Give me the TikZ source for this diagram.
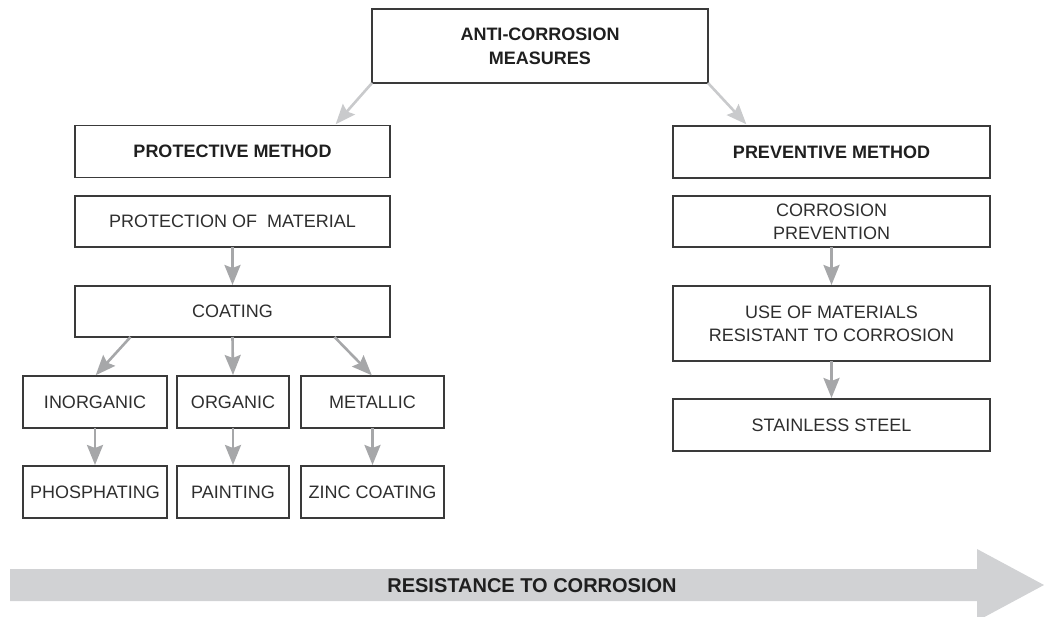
\documentclass[tikz,border=0pt]{standalone}
\usepackage{fontspec}
\setmainfont{Liberation Sans}
\usetikzlibrary{arrows.meta}
\definecolor{boxline}{HTML}{3A3A3A}
\definecolor{txt}{HTML}{2E2E2E}
\definecolor{arrowgray}{HTML}{A6A7A9}
\definecolor{lightarrow}{HTML}{C9CACC}
\definecolor{bandgray}{HTML}{D1D2D4}
\tikzset{
  box/.style={draw=boxline, line width=1.1pt, rectangle, inner sep=0pt, outer sep=0pt,
    align=center, text=txt, font=\fontsize{18}{23}\selectfont},
  boldbox/.style={box, font=\fontsize{18}{24}\selectfont\bfseries, text=black!88},
  conn/.style={draw=arrowgray, line width=2.6pt,
    -{Stealth[length=20pt,width=16pt,inset=3pt]}, shorten >=1pt},
  lightconn/.style={conn, draw=lightarrow},
}
\begin{document}
\begin{tikzpicture}[x=1pt,y=-1pt]
\useasboundingbox (0,0) rectangle (1044,617);
% nodes
\node[boldbox, minimum width=336pt, minimum height=74pt] (top) at (540,46) {ANTI-CORROSION\\MEASURES};
\node[boldbox, minimum width=315pt, minimum height=52pt] (prot) at (232.5,151.5) {PROTECTIVE METHOD};
\node[boldbox, minimum width=317pt, minimum height=52pt] (prev) at (831.5,152) {PREVENTIVE METHOD};
\node[box, minimum width=315pt, minimum height=51pt] (pm) at (232.5,221.5) {PROTECTION OF\ \ MATERIAL};
\node[box, minimum width=315pt, minimum height=51pt] (coat) at (232.5,311.5) {COATING};
\node[box, minimum width=144pt, minimum height=52pt] (inorg) at (95,402) {INORGANIC};
\node[box, minimum width=112pt, minimum height=52pt] (org) at (233,402) {ORGANIC};
\node[box, minimum width=143pt, minimum height=52pt] (met) at (372.5,402) {METALLIC};
\node[box, minimum width=144pt, minimum height=52pt] (phos) at (95,492) {PHOSPHATING};
\node[box, minimum width=112pt, minimum height=52pt] (paint) at (233,492) {PAINTING};
\node[box, minimum width=143pt, minimum height=52pt] (zinc) at (372.5,492) {ZINC COATING};
\node[box, minimum width=317pt, minimum height=51pt] (cp) at (831.5,221.5) {CORROSION\\PREVENTION};
\node[box, minimum width=317pt, minimum height=75pt] (use) at (831.5,323.5) {USE OF MATERIALS\\RESISTANT TO CORROSION};
\node[box, minimum width=317pt, minimum height=52pt] (ss) at (831.5,425) {STAINLESS STEEL};
% free ends of the top connectors
\coordinate (tl) at (335,125);
\coordinate (tr) at (747,125);
% connectors
\draw[lightconn] (top.south west) -- (tl);
\draw[lightconn] (top.south east) -- (tr);
\draw[conn] (pm.south) -- (coat.north);
\draw[conn] ([xshift=-102pt]coat.south) -- (inorg.north);
\draw[conn] (coat.south) -- (org.north);
\draw[conn] ([xshift=102pt]coat.south) -- (met.north);
\draw[conn] (inorg.south) -- (phos.north);
\draw[conn] (org.south) -- (paint.north);
\draw[conn] (met.south) -- (zinc.north);
\draw[conn] (cp.south) -- (use.north);
\draw[conn] (use.south) -- (ss.north);
% big arrow
\fill[bandgray] (10,569) -- (977,569) -- (977,549) -- (1044,585) -- (977,621) -- (977,601) -- (10,601) -- cycle;
\node[font=\fontsize{20}{24}\selectfont\bfseries, text=black!88, inner sep=0pt] (res) at (532,585.5) {RESISTANCE TO CORROSION};
\end{tikzpicture}
\end{document}
